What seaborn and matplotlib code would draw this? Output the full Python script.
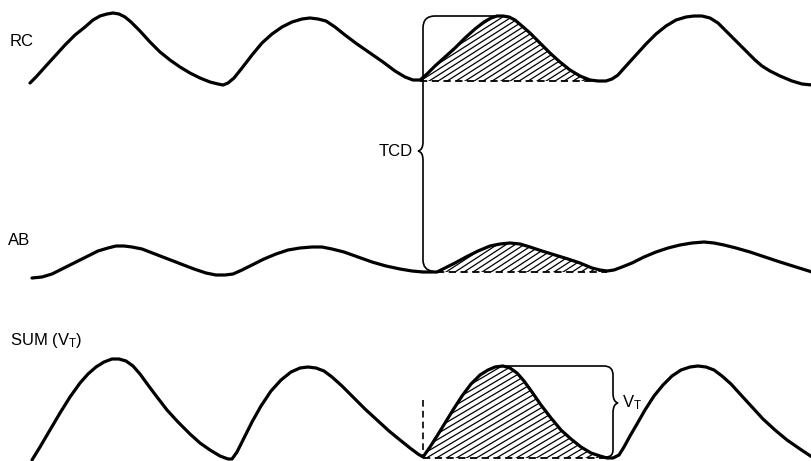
import numpy as np
import pandas as pd
import matplotlib
matplotlib.use("Agg")
import matplotlib.pyplot as plt
import seaborn as sns
from matplotlib.path import Path
from matplotlib.patches import PathPatch
from matplotlib.collections import LineCollection

# ---- data (pixel-like units, y grows downward) ----
rc_x = [30, 36, 45, 55, 65, 75, 85, 93, 100, 107, 113, 119, 125, 131, 140, 150, 160, 170, 180,
        190, 200, 210, 218, 223, 228, 234, 242, 252, 262, 272, 282, 292, 302, 310, 318, 326,
        335, 345, 357, 370, 383, 395, 405, 413, 420,
        427, 435, 445, 455, 465, 475, 484, 491, 497, 503, 509, 515, 522, 530, 540, 550, 560,
        570, 580, 590, 598, 606, 612, 618, 626, 636, 646, 656, 666, 676, 686, 694, 702, 710,
        718, 726, 735, 745, 755, 762, 770, 780, 792, 802, 812]
rc_y = [83, 77, 67, 56, 45, 35, 27, 20, 16, 14, 13, 14, 17, 22, 31, 42, 52, 60, 67,
        73, 78, 82, 84, 85, 83, 78, 68, 55, 43, 34, 27, 22, 19, 18, 19, 21,
        27, 35, 44, 53, 62, 71, 77, 80, 80,
        74, 66, 57, 48, 38, 29, 22, 18, 16, 16, 17, 20, 26, 33, 43, 53, 62,
        70, 76, 80, 81, 81, 79, 75, 66, 55, 44, 34, 26, 20, 17, 16, 16, 18,
        23, 31, 40, 50, 60, 66, 71, 76, 81, 84, 85]

ab_x = [32, 42, 52, 62, 74, 86, 98, 108, 116, 124, 132, 142, 155, 168, 181, 194, 206, 216,
        225, 233, 242, 252, 264, 276, 288, 300, 312, 322, 332, 344, 358, 372, 386, 400, 412,
        423, 430, 437, 445, 455, 466, 478, 490, 500, 510, 520, 530, 542, 555, 568, 580, 592,
        600, 607, 614, 622, 632, 644, 656, 668, 680, 692, 704, 714, 724, 736, 750, 765, 780,
        796, 812]
ab_y = [278, 277, 274, 269, 263, 257, 251, 248, 246, 246, 247, 249, 254, 259, 264, 269, 273, 275,
        275, 274, 270, 265, 259, 254, 250, 248, 247, 247, 249, 252, 257, 262, 266, 269, 271,
        272, 272, 272, 268, 263, 257, 251, 246, 244, 243, 244, 247, 251, 255, 259, 263, 268,
        270, 271, 270, 267, 263, 257, 252, 248, 245, 243, 242, 243, 245, 248, 252, 257, 262,
        267, 272]

sum_x = [32, 40, 50, 60, 70, 80, 88, 96, 104, 112, 119, 126, 133, 140, 148, 157, 167, 178,
         190, 200, 210, 220, 228, 232, 237, 244, 252, 261, 271, 281, 291, 300, 308, 316, 324,
         332, 342, 353, 365, 377, 389, 400, 410, 418, 423,
         430, 437, 445, 453, 462, 471, 480, 488, 495, 503, 510, 517, 524, 532, 541, 551, 561,
         571, 581, 591, 600, 607, 613, 619, 624, 630, 637, 645, 654, 663, 672, 681, 690, 698,
         706, 714, 722, 731, 741, 752, 763, 775, 787, 800, 812]
sum_y = [460, 447, 430, 413, 397, 383, 374, 367, 362, 359, 359, 361, 366, 374, 385, 397, 410, 422,
         434, 443, 450, 456, 459, 459, 452, 438, 422, 406, 391, 380, 372, 368, 367, 368, 371,
         377, 386, 397, 409, 420, 431, 440, 448, 454, 457,
         447, 436, 423, 410, 396, 384, 375, 370, 367, 366, 368, 373, 381, 392, 405, 418, 430,
         439, 447, 453, 456, 458, 458, 455, 447, 436, 424, 410, 396, 385, 376, 370, 367, 366,
         367, 370, 376, 384, 395, 407, 419, 430, 440, 449, 457]

# shaded beats: (start x, end x, baseline)
rc_shade = (420, 598, 81)
ab_shade = (437, 607, 272)
sum_shade = (423, 613, 458)

labels = ["RC", "AB", "SUM (V$_T$)"]

# ---- drawing ----
sns.set_theme(style="white")
plt.rcParams['font.family'] = ['Liberation Sans', 'DejaVu Sans']
plt.rcParams['mathtext.default'] = 'regular'

fig = plt.figure(figsize=(8.12, 4.61), dpi=100)
ax = fig.add_axes([0, 0, 1, 1])
ax.set_xlim(0, 812)
ax.set_ylim(461, 0)
ax.axis('off')

df = pd.concat([
    pd.DataFrame({'x': rc_x, 'y': rc_y, 'trace': 'RC'}),
    pd.DataFrame({'x': ab_x, 'y': ab_y, 'trace': 'AB'}),
    pd.DataFrame({'x': sum_x, 'y': sum_y, 'trace': 'SUM'}),
])
sns.lineplot(data=df, x='x', y='y', units='trace', estimator=None, sort=False,
             color='black', linewidth=2.3, ax=ax, legend=False, zorder=5,
             solid_capstyle='round', solid_joinstyle='round')
ax.set_xlabel('')
ax.set_ylabel('')


def hatch(xs, ys, shade, slope=0.62, step=9):
    x0, x1, base = shade
    sel = [(x, y) for x, y in zip(xs, ys) if x0 <= x <= x1]
    sx = [p[0] for p in sel]
    sy = [p[1] for p in sel]
    poly = ax.fill_between(sx, sy, base, facecolor='white', edgecolor='none', zorder=1)
    clip = poly.get_paths()[0]
    ymin = min(sy)
    h = base - ymin + 10
    segs = [[(c, base + 2), (c + h / slope, base - h)] for c in np.arange(x0 - 300, x1 + 10, step)]
    lc = LineCollection(segs, colors='black', linewidths=0.9, zorder=2)
    ax.add_collection(lc)
    lc.set_clip_path(clip, ax.transData)
    ax.plot([x0, x1], [base, base], color='black', lw=1.3, ls=(0, (4, 2.5)), zorder=3)


hatch(rc_x, rc_y, rc_shade)
hatch(ab_x, ab_y, ab_shade)
hatch(sum_x, sum_y, sum_shade, slope=0.58, step=10)


def corner(verts, codes, p_prev, p, p_next, r):
    p_prev, p, p_next = map(np.array, (p_prev, p, p_next))
    d1 = (p - p_prev) / np.linalg.norm(p - p_prev)
    d2 = (p_next - p) / np.linalg.norm(p_next - p)
    a = p - d1 * r
    b = p + d2 * r
    verts += [tuple(a), tuple(p), tuple(b)]
    codes += [Path.LINETO, Path.CURVE3, Path.CURVE3]


def brace(verts, codes, x, yc, d, h):
    # vertical line heading downward, small brace kink with tip at x+d
    verts += [(x, yc - h), (x, yc - 1), (x + d, yc), (x, yc + 1), (x, yc + h)]
    codes += [Path.LINETO, Path.CURVE3, Path.CURVE3, Path.CURVE3, Path.CURVE3]


# TCD bracket: from RC peak of shaded beat, down to AB trough
i_rc = int(np.argmin([y if rc_shade[0] <= x <= rc_shade[1] else 999 for x, y in zip(rc_x, rc_y)]))
bx = 423
top_y = rc_y[i_rc]
bot_y = ab_y[ab_x.index(ab_shade[0])]
tcd_y = 151
verts, codes = [(rc_x[i_rc], top_y)], [Path.MOVETO]
corner(verts, codes, (rc_x[i_rc], top_y), (bx, top_y), (bx, bot_y), 12)
brace(verts, codes, bx, tcd_y, -5, 9)
corner(verts, codes, (bx, tcd_y), (bx, bot_y - 2), (ab_shade[0], bot_y), 10)
verts.append((ab_shade[0] - 2, bot_y))
codes.append(Path.LINETO)
ax.add_patch(PathPatch(Path(verts, codes), facecolor='none', edgecolor='black', lw=1.2, zorder=4))

# V_T bracket: from SUM peak of shaded beat down to SUM trough
i_s = int(np.argmin([y if sum_shade[0] <= x <= sum_shade[1] else 999 for x, y in zip(sum_x, sum_y)]))
sx_top, sy_top = sum_x[i_s], sum_y[i_s]
vx = sum_shade[1]
vt_y = 403
verts, codes = [(sx_top, sy_top)], [Path.MOVETO]
corner(verts, codes, (sx_top, sy_top), (vx, sy_top), (vx, sum_shade[2]), 9)
brace(verts, codes, vx, vt_y, 5, 10)
corner(verts, codes, (vx, vt_y), (vx, sum_shade[2] - 1), (vx - 20, sum_shade[2] - 1), 7)
verts.append((vx - 8, sum_shade[2] - 1))
codes.append(Path.LINETO)
ax.add_patch(PathPatch(Path(verts, codes), facecolor='none', edgecolor='black', lw=1.2, zorder=4))

# dashed marker at onset of SUM beat
ax.plot([sum_shade[0], sum_shade[0]], [400, sum_shade[2] - 2], color='black', lw=1.2,
        ls=(0, (4, 2.5)), zorder=3)

fs = 12
tc = 'black'
ax.text(10, 41, labels[0], ha='left', va='center', fontsize=fs, color=tc)
ax.text(8, 240, labels[1], ha='left', va='center', fontsize=fs, color=tc)
ax.text(10, 340, labels[2], ha='left', va='center', fontsize=fs, color=tc)
ax.text(bx - 10, tcd_y, 'TCD', ha='right', va='center', fontsize=fs, color=tc)
ax.text(vx + 9, vt_y, 'V$_T$', ha='left', va='center', fontsize=fs, color=tc)

fig.savefig('out.png', dpi=100)
